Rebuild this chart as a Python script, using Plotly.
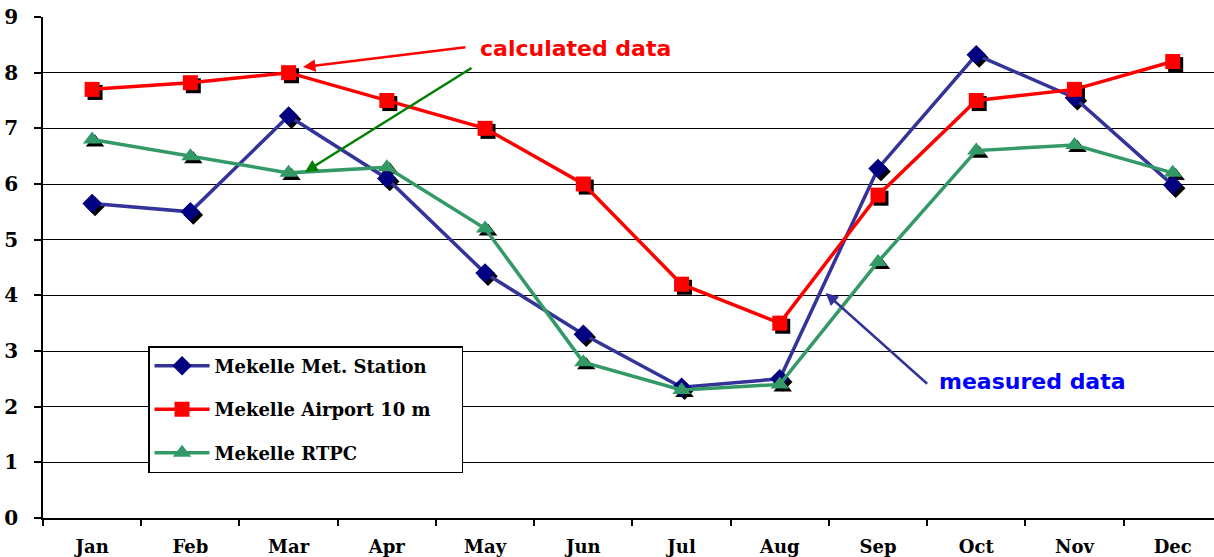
import plotly.graph_objects as go

months = ["Jan", "Feb", "Mar", "Apr", "May", "Jun", "Jul", "Aug", "Sep", "Oct", "Nov", "Dec"]
met_station = [5.65, 5.5, 7.22, 6.1, 4.4, 3.3, 2.35, 2.5, 6.28, 8.32, 7.55, 5.98]
airport_10m = [7.7, 7.82, 8.0, 7.5, 7.0, 6.0, 4.2, 3.5, 5.8, 7.5, 7.7, 8.2]
rtpc = [6.8, 6.5, 6.2, 6.3, 5.2, 2.8, 2.3, 2.4, 4.6, 6.6, 6.7, 6.2]
y_ticks = list(range(0, 10))

xi = list(range(len(months)))
serif = "DejaVu Serif, serif"
sans = "DejaVu Sans, sans-serif"

series = [
    ("Mekelle Met. Station", met_station, "#333399", "#000080", "diamond", 15),
    ("Mekelle Airport 10 m", airport_10m, "#FF0000", "#FF0000", "square", 15),
    ("Mekelle RTPC", rtpc, "#339966", "#339966", "triangle-up", 16),
]

fig = go.Figure()

# drop shadows under the markers
sx, sy = 0.03, 0.055
for name, vals, lc, mc, sym, sz in series:
    fig.add_trace(go.Scatter(
        x=[v + sx for v in xi], y=[v - sy for v in vals], mode="markers",
        marker=dict(symbol=sym, size=sz, color="black"),
        showlegend=False, hoverinfo="skip",
    ))

for i, (name, vals, lc, mc, sym, sz) in enumerate(series):
    fig.add_trace(go.Scatter(
        x=xi, y=vals, mode="lines+markers",
        name=name + "&nbsp;&nbsp;&nbsp;&nbsp;", legendgroup=f"g{i}",
        line=dict(color=lc, width=3.5),
        marker=dict(symbol=sym, size=sz, color=mc),
    ))

# callouts
fig.add_annotation(x=3.93, y=8.44, text="<b>calculated data</b>", showarrow=False,
                   xanchor="left", yanchor="middle",
                   font=dict(family=sans, size=22, color="#FF0000"))
fig.add_annotation(x=2.146, y=8.10, text="", showarrow=True, ax=164, ay=-20,
                   arrowhead=2, arrowsize=1, arrowwidth=2.5, arrowcolor="#FF0000")
fig.add_annotation(x=2.167, y=6.215, text="", showarrow=True, ax=168, ay=-105,
                   arrowhead=2, arrowsize=1, arrowwidth=2.5, arrowcolor="#008000")
fig.add_annotation(x=8.6, y=2.46, text="<b>measured data</b>", showarrow=False,
                   xanchor="left", yanchor="middle",
                   font=dict(family=sans, size=22, color="#0000FF"))
fig.add_annotation(x=7.467, y=4.04, text="", showarrow=True, ax=103, ay=92,
                   arrowhead=2, arrowsize=1, arrowwidth=2.5, arrowcolor="#333399")

fig.update_xaxes(
    range=[-0.5, 11.42], tickmode="array", tickvals=xi, ticktext=months,
    ticks="", showgrid=False, zeroline=False,
    showline=True, linecolor="black", linewidth=1.5,
    tickfont=dict(family=serif, size=18, color="black", weight="bold"),
    ticklabelstandoff=12,
    minor=dict(tickmode="linear", tick0=-0.5, dtick=1, ticks="outside",
               ticklen=6, tickcolor="black", tickwidth=1.5, showgrid=False),
)
fig.update_yaxes(
    range=[0, 9], tickmode="array", tickvals=y_ticks,
    ticks="outside", ticklen=7, tickcolor="black", tickwidth=1.5,
    showgrid=True, gridcolor="black", gridwidth=1, zeroline=False,
    showline=True, linecolor="black", linewidth=1.5,
    tickfont=dict(family=serif, size=20, color="black", weight="bold"),
    ticklabelstandoff=12,
)

fig.update_layout(
    width=1214, height=557,
    margin=dict(l=43, r=0, t=17, b=39),
    paper_bgcolor="white", plot_bgcolor="white",
    legend=dict(
        x=0.0897, y=0.343, xanchor="left", yanchor="top",
        bgcolor="white", bordercolor="black", borderwidth=1.5,
        font=dict(family=serif, size=18, color="black", weight="bold"),
        tracegroupgap=17, itemwidth=55,
    ),
    showlegend=True,
)

fig.write_html("out.html")
